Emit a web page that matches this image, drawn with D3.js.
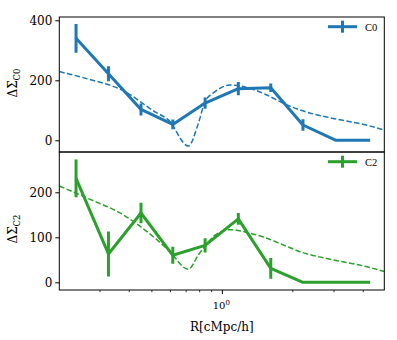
<!DOCTYPE html>
<html><head><meta charset="utf-8">
<script src="https://cdn.jsdelivr.net/npm/d3@7"></script>
<style>body{margin:0;background:#fff}svg{display:block}text{font-family:"DejaVu Serif",serif;fill:#000}</style>
</head><body><svg id="c" width="397" height="340"></svg>
<script>
const R = [0.237, 0.326, 0.449, 0.614, 0.844, 1.170, 1.610, 2.21, 3.06, 4.28];
const c0 = [340, 222, 103, 53, 124, 172, 175, 51, 0, 0];
const c0err = [48, 25, 20, 16, 19, 22, 14, 19, 0, 0];
const c2 = [231, 63, 154, 60, 82, 141, 31, 0, 0, 0];
const c2err = [42, 50, 23, 19, 16, 13, 23, 0, 0, 0];
const modelR = [0.201, 0.2675, 0.3715, 0.5157, 0.5877, 0.7157, 0.7898, 0.8435, 0.9307, 1.0787, 1.313, 1.548, 1.823, 2.148, 2.972, 4.112, 4.92];
const model0 = [229, 204, 168, 95, 68, -19, 57, 129, 162, 184, 173, 151, 123, 101, 73, 51, 34];
const model2 = [214, 186, 152, 98, 72, 29, 61, 80, 105, 117, 109, 98, 83, 68, 50, 35, 24];
const yTicks0 = [0, 200, 400];
const yTicks2 = [0, 100, 200];
const xMinor = [0.3, 0.4, 0.5, 0.6, 0.7, 0.8, 0.9, 2, 3, 4];
const xMajor = [1];

const svg = d3.select("#c");
const L = 59.3, Rt = 384.3;
const x = d3.scaleLog().domain([0.201, 4.92]).range([L, Rt]);

const panels = [
  {top: 17, bot: 152, dom: [-39, 411], vals: c0, err: c0err, model: model0, ticks: yTicks0, color: "#1f77b4", name: "C0", sub: "C0", labY: 83},
  {top: 152, bot: 290, dom: [-17.1, 289.6], vals: c2, err: c2err, model: model2, ticks: yTicks2, color: "#2ca02c", name: "C2", sub: "C2", labY: 229}
];

panels.forEach((p, i) => {
  const y = d3.scaleLinear().domain(p.dom).range([p.bot, p.top]);
  const g = svg.append("g");
  const cid = "clip" + i;
  svg.append("clipPath").attr("id", cid).append("rect")
    .attr("x", L).attr("y", p.top).attr("width", Rt - L).attr("height", p.bot - p.top);
  const pg = g.append("g").attr("clip-path", `url(#${cid})`);
  // model dashed
  pg.append("path").datum(modelR.map((r, k) => [r, p.model[k]]))
    .attr("fill", "none").attr("stroke", p.color).attr("stroke-width", 1.5)
    .attr("stroke-dasharray", "5.5,2.4")
    .attr("d", d3.line().x(d => x(d[0])).y(d => y(d[1])).curve(d3.curveMonotoneX));
  // data line
  pg.append("path").datum(R.map((r, k) => [r, p.vals[k]]))
    .attr("fill", "none").attr("stroke", p.color).attr("stroke-width", 3)
    .attr("stroke-linejoin", "round")
    .attr("d", d3.line().x(d => x(d[0])).y(d => y(d[1])));
  // error bars
  pg.selectAll("line.e").data(R.map((r, k) => [r, p.vals[k], p.err[k]]).filter(d => d[2] > 0))
    .join("line").attr("stroke", p.color).attr("stroke-width", 3)
    .attr("x1", d => x(d[0])).attr("x2", d => x(d[0]))
    .attr("y1", d => y(d[1] - d[2])).attr("y2", d => y(d[1] + d[2]));
  // frame
  g.append("rect").attr("x", L).attr("y", p.top).attr("width", Rt - L).attr("height", p.bot - p.top)
    .attr("fill", "none").attr("stroke", "#000").attr("stroke-width", 1);
  // y axis
  const ya = g.append("g").attr("transform", `translate(${L},0)`)
    .call(d3.axisLeft(y).tickValues(p.ticks).tickSize(4).tickPadding(3).tickFormat(d3.format("d")));
  ya.select(".domain").remove();
  ya.selectAll("text").style("font-size", "12px").style("font-family", "DejaVu Serif");
  // y label
  const lab = g.append("text").attr("transform", `translate(17,${p.labY}) rotate(-90)`)
    .attr("text-anchor", "middle").style("font-size", "12px");
  lab.append("tspan").text("ΔΣ");
  lab.append("tspan").attr("dy", 3).style("font-size", "8.5px").text(p.sub);
  // legend
  const ly = p.top + 9.7;
  g.append("line").attr("x1", 328).attr("x2", 357).attr("y1", ly).attr("y2", ly)
    .attr("stroke", p.color).attr("stroke-width", 3);
  g.append("line").attr("x1", 342.5).attr("x2", 342.5).attr("y1", ly - 6).attr("y2", ly + 6)
    .attr("stroke", p.color).attr("stroke-width", 3);
  g.append("text").attr("x", 365).attr("y", ly + 3.8).style("font-size", "10.5px")
    .style("font-family", "Liberation Serif").text(p.name);
});

// x axis bottom
const xa = svg.append("g").attr("transform", "translate(0,290)");
xa.selectAll("line.mi").data(xMinor).join("line")
  .attr("x1", d => x(d)).attr("x2", d => x(d)).attr("y1", 0).attr("y2", 2.2)
  .attr("stroke", "#000").attr("stroke-width", 0.8);
xa.selectAll("line.ma").data(xMajor).join("line")
  .attr("x1", d => x(d)).attr("x2", d => x(d)).attr("y1", 0).attr("y2", 4)
  .attr("stroke", "#000").attr("stroke-width", 1);
xa.selectAll("text.t").data(xMajor).join("text")
  .attr("x", d => x(d) - 1).attr("y", 19).attr("text-anchor", "middle").style("font-size", "10px")
  .each(function(d) {
    const t = d3.select(this);
    t.append("tspan").text("10");
    t.append("tspan").attr("dy", -4).style("font-size", "7px").text(Math.round(Math.log10(d)));
  });
svg.append("text").attr("x", (L + Rt) / 2).attr("y", 331).attr("text-anchor", "middle")
  .style("font-size", "12px").text("R[cMpc/h]");
</script></body></html>
